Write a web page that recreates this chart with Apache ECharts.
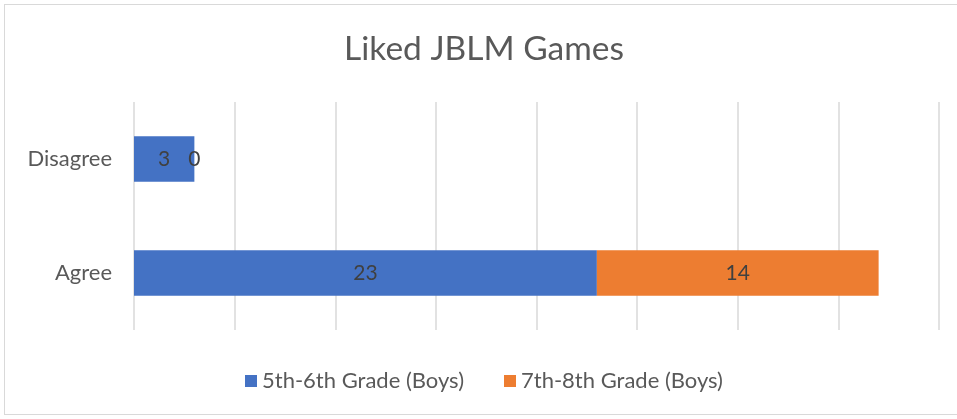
<!DOCTYPE html>
<html>
<head>
<meta charset="utf-8">
<script src="https://cdn.jsdelivr.net/npm/echarts@6/dist/echarts.min.js"></script>
<style>
  html, body { margin: 0; padding: 0; background: #fff; }
  #chart {
    position: absolute; left: 4px; top: 4px;
    width: 960px; height: 411px;
    border: 1px solid #d9d9d9; box-sizing: border-box;
  }
</style>
</head>
<body>
<div id="chart"></div>
<script>
// categories, bottom to top
var categories = ['Agree', 'Disagree'];
var seriesNames = ['5th-6th Grade (Boys)', '7th-8th Grade (Boys)'];
var grade56 = [23, 3];
var grade78 = [14, 0];

var FONT = 'Lato, "Noto Sans", sans-serif';

var chart = echarts.init(document.getElementById('chart'));
chart.setOption({
  animation: false,
  title: {
    text: 'Liked JBLM Games',
    left: 'center',
    top: 22,
    textStyle: { fontFamily: FONT, fontSize: 33.5, fontWeight: 'normal', color: '#595959' }
  },
  legend: {
    bottom: 17,
    left: 'center',
    itemWidth: 12,
    itemHeight: 12,
    itemGap: 40,
    icon: 'rect',
    textStyle: { fontFamily: FONT, fontSize: 22, color: '#595959' },
    data: seriesNames
  },
  grid: { left: 129, right: 24, top: 97, bottom: 84, containLabel: false },
  xAxis: {
    type: 'value',
    min: 0,
    max: 40,
    interval: 5,
    axisLabel: { show: false },
    axisLine: { show: false },
    axisTick: { show: false },
    splitLine: { lineStyle: { color: '#d9d9d9', width: 1.5 } }
  },
  yAxis: {
    type: 'category',
    data: categories,
    axisLine: { show: false },
    axisTick: { show: false },
    axisLabel: { fontFamily: FONT, fontSize: 22, color: '#595959', margin: 22 }
  },
  series: [
    {
      name: seriesNames[0],
      type: 'bar',
      stack: 'total',
      barWidth: '40%',
      data: grade56,
      itemStyle: { color: '#4472c4' },
      label: { show: true, position: 'inside', fontFamily: FONT, fontSize: 21, color: '#404040' }
    },
    {
      name: seriesNames[1],
      type: 'bar',
      stack: 'total',
      barWidth: '40%',
      data: grade78,
      itemStyle: { color: '#ed7d31' },
      label: { show: true, position: 'inside', fontFamily: FONT, fontSize: 21, color: '#404040' }
    }
  ]
});
</script>
</body>
</html>
